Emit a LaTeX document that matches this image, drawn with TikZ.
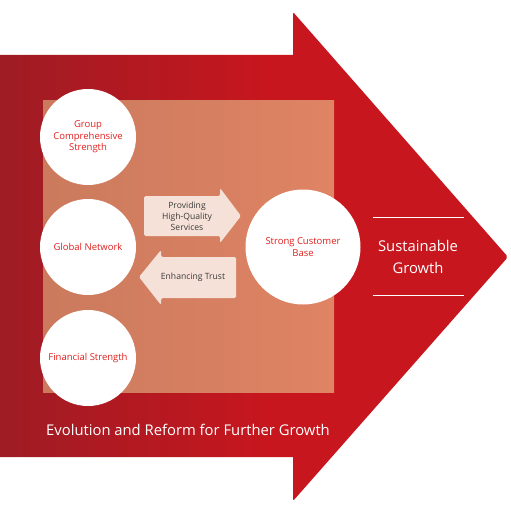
\documentclass[tikz,border=0pt]{standalone}
\usepackage{fontspec}
\setmainfont{Open Sans}
\definecolor{darkred}{HTML}{9E1C24}
\definecolor{mainred}{HTML}{C8161E}
\definecolor{sqleft}{HTML}{CB7A5D}
\definecolor{sqright}{HTML}{DF8464}
\definecolor{pale}{HTML}{F5E1D8}
\definecolor{txtred}{HTML}{E0201E}
\definecolor{txtgray}{HTML}{3A3A3A}
\pgfdeclarehorizontalshading{arrowshade}{100bp}{color(0bp)=(darkred); color(25bp)=(darkred); color(52bp)=(mainred); color(100bp)=(mainred)}
\begin{document}
\begin{tikzpicture}[x=1pt,y=-1pt,
  circ/.style={circle,fill=white,inner sep=0pt,align=center,text=txtred,font=\fontsize{9.5}{11.3}\selectfont},
  smallarrow/.style={fill=pale,rounded corners=1.5pt},
  arrowlbl/.style={align=center,text=txtgray,font=\fontsize{8.6}{10.8}\selectfont},
  whitetxt/.style={text=white,align=center}]
\useasboundingbox (0,0) rectangle (511,508);
% big arrow
\shade[shading=arrowshade] (0,55) -- (293,55) [rounded corners=2pt] -- (293,12) -- (508,257) -- (293,501) [sharp corners] -- (293,457) -- (0,457) -- cycle;
% square
\shade[left color=sqleft,right color=sqright] (43,101) rectangle (334,392);
% circles
\node[circ,minimum size=96pt] (group) at (88,137) {Group\\Comprehensive\\Strength};
\node[circ,minimum size=96pt] (global) at (88,247) {Global Network};
\node[circ,minimum size=96pt] (fin) at (88,358) {Financial Strength};
\node[circ,minimum size=115pt] (cust) at (303,247) {Strong Customer\\Base};
% small arrows
\path[smallarrow] (144,196) -- (220,196) -- (220,188) -- (241,216) -- (220,243) -- (220,236) -- (144,236) -- cycle;
\node[arrowlbl] (prov) at (187,216) {Providing\\High-Quality\\Services};
\path[smallarrow] (236,257) -- (236,298) -- (161,298) -- (161,305) -- (139,277) -- (161,250) -- (161,257) -- cycle;
\node[arrowlbl] (trust) at (193,277) {Enhancing Trust};
% right side
\coordinate (l1a) at (373,217); \coordinate (l1b) at (464,217);
\coordinate (l2a) at (373,295); \coordinate (l2b) at (464,295);
\draw[white,line width=0.8pt] (l1a) -- (l1b);
\draw[white,line width=0.8pt] (l2a) -- (l2b);
\node[whitetxt,font=\fontsize{14.8}{21.5}\selectfont] (sust) at (418,257) {Sustainable\\Growth};
\node[whitetxt,font=\fontsize{14.8}{16}\selectfont] (evo) at (188,430) {Evolution and Reform for Further Growth};
\end{tikzpicture}
\end{document}
